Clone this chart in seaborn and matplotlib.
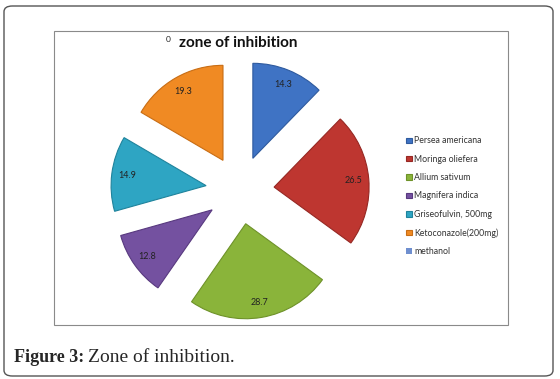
import matplotlib
matplotlib.use("Agg")
import matplotlib.pyplot as plt
import seaborn as sns
from matplotlib.patches import FancyBboxPatch, Rectangle

# zone of inhibition (mm)
names = ["Persea americana", "Moringa oliefera", "Allium sativum", "Magnifera indica",
         "Griseofulvin, 500mg", "Ketoconazole(200mg)", "methanol"]
values = [14.3, 26.5, 28.7, 12.8, 14.9, 19.3, 0]
colors = ["#3F73C4", "#BE3630", "#8AB43A", "#7451A0", "#2EA5C3", "#F08A23", "#6F8FCF"]
edges = ["#2E5A9E", "#962823", "#6E9229", "#58397F", "#1F839C", "#C86D14", "#56729F"]

sns.set_style("white")
plt.rcParams['font.family'] = ['Lato', 'DejaVu Sans']

W, H = 560, 379
fig = plt.figure(figsize=(W / 100, H / 100), dpi=100)


def fx(x):
    return x / W


def fy(y):
    return 1 - y / H


# outer rounded frame and inner chart frame
fig.patches.append(FancyBboxPatch((fx(4), fy(376)), fx(553 - 4), fy(6) - fy(376),
                                  boxstyle="round,pad=0,rounding_size=0.015",
                                  transform=fig.transFigure, fill=False,
                                  edgecolor="#555555", linewidth=1.0))
fig.patches.append(Rectangle((fx(54), fy(325)), fx(508 - 54), fy(31) - fy(325),
                             transform=fig.transFigure, fill=False,
                             edgecolor="#8a8a8a", linewidth=0.8))

# pie axes: centre at (240,190) px, radius ~95 px
cx, cy, r = 240, 190, 95
left, right, top, bottom = 54, 400, 31, 325
ax = fig.add_axes([fx(left), fy(bottom), fx(right - left), fy(top) - fy(bottom)])

explode = [0.36] * len(values)
labels = ["" if v == 0 else f"{v}" for v in values]
wedges, texts = ax.pie(values, colors=colors, explode=explode, startangle=90,
                       counterclock=False, labels=labels, labeldistance=0.84,
                       wedgeprops=dict(linewidth=0.8),
                       textprops=dict(ha="center", va="center", fontsize=6.5,
                                      color="#222222"))
for w, e, v in zip(wedges, edges, values):
    w.set_edgecolor(e)
    if v == 0:
        w.set_linewidth(0)
ax.set_aspect("auto")
ax.set_xlim(-(cx - left) / r, (right - cx) / r)
ax.set_ylim(-(bottom - cy) / r, (cy - top) / r)
ax.axis("off")

# methanol label (value 0) ends up beside the title
fig.text(fx(168), fy(40), f"{values[-1]}", fontsize=6, color="#222222",
         ha="center", va="center")
fig.text(fx(238), fy(43), "zone of inhibition", fontsize=11, fontweight="bold",
         ha="center", va="center", color="#111111")

leg = fig.legend(wedges, names, loc="upper left", bbox_to_anchor=(fx(402), fy(132)),
                 frameon=False, fontsize=6.3, handlelength=0.6, handleheight=0.6,
                 handletextpad=0.3, labelspacing=1.07, borderpad=0)
for t in leg.get_texts():
    t.set_color("#333333")

fig.text(fx(14), fy(357), "Figure 3:", fontsize=13, fontweight="bold",
         family="Liberation Serif", ha="left", va="center")
fig.text(fx(88), fy(357), "Zone of inhibition.", fontsize=14,
         family="Liberation Serif", ha="left", va="center")

fig.savefig("out.png", dpi=100)
